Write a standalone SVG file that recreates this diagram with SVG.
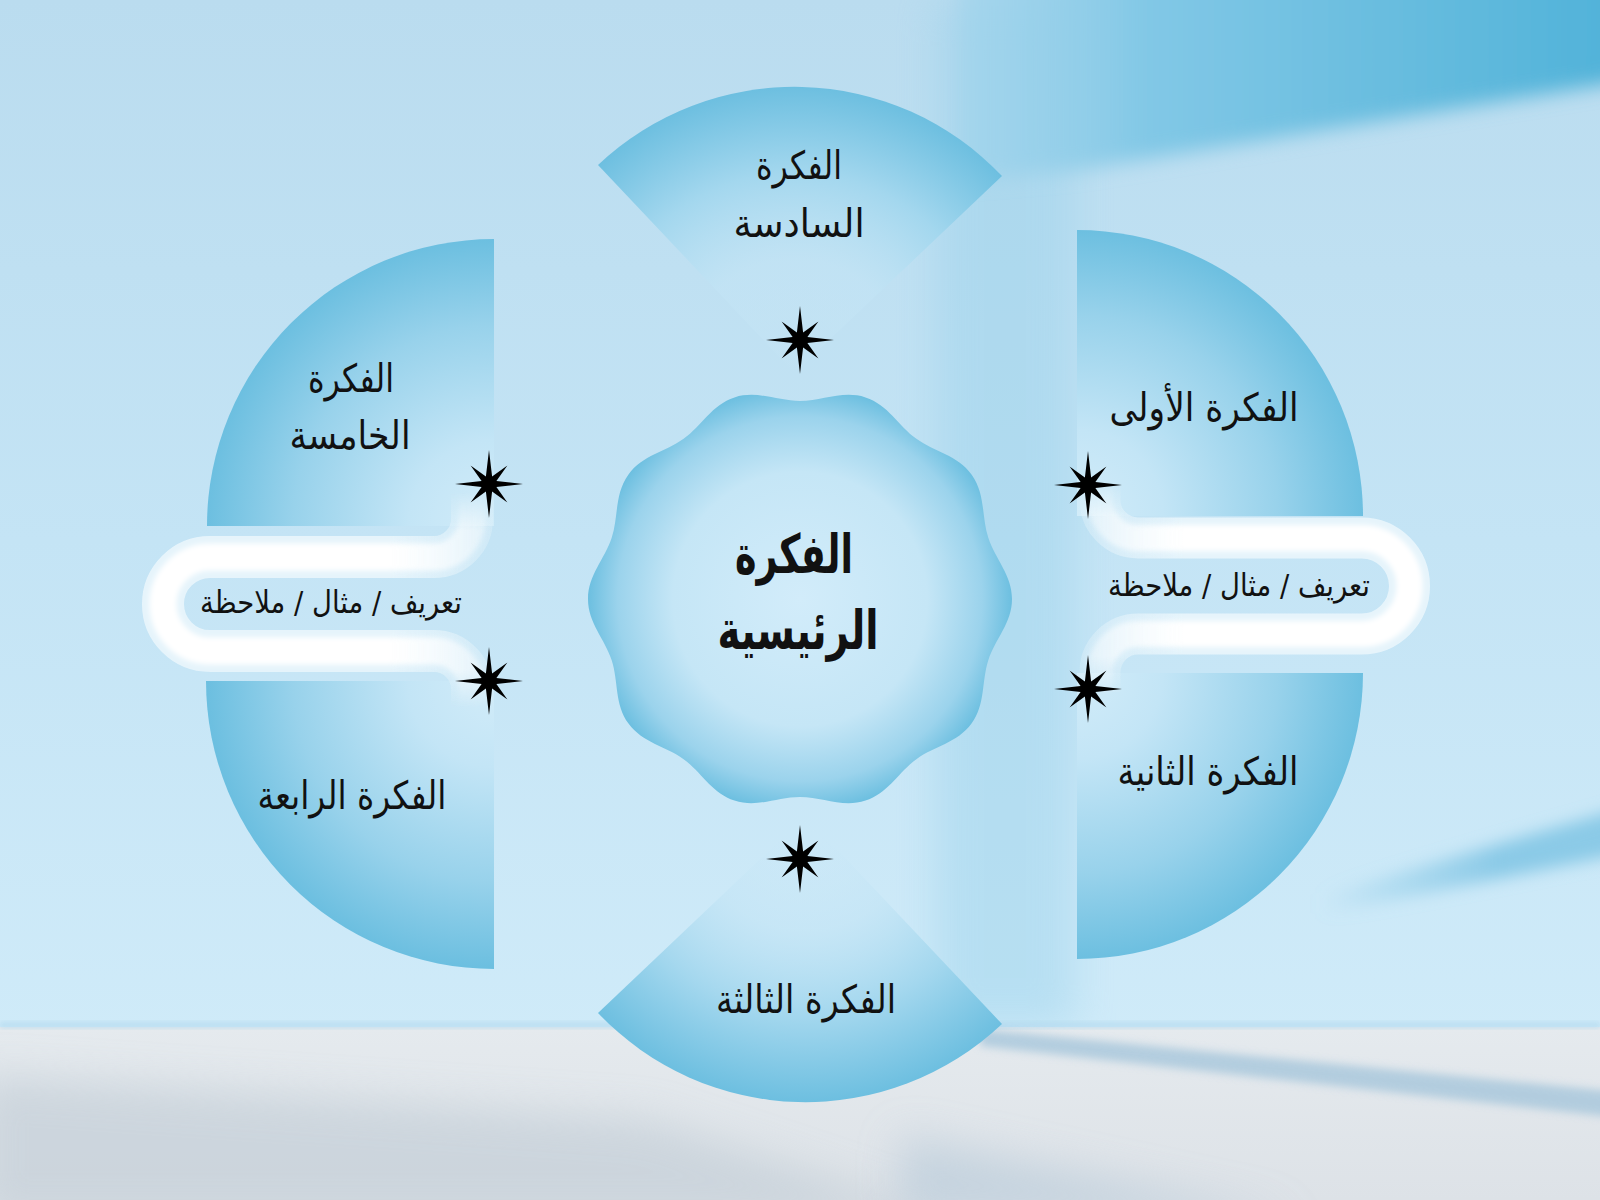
<svg xmlns="http://www.w3.org/2000/svg" width="1600" height="1200" viewBox="0 0 1600 1200">
<style>
.lbl{font-family:"DejaVu Sans","Noto Sans",sans-serif;font-size:39px;fill:#111;text-anchor:middle}
.ttl{font-size:54px;font-weight:bold}
.note{font-size:31px}
.star{fill:#000}
</style>
<defs>
<filter id="b4" x="-50%" y="-50%" width="200%" height="200%"><feGaussianBlur stdDeviation="4"/></filter>
<filter id="b8" x="-50%" y="-50%" width="200%" height="200%"><feGaussianBlur stdDeviation="8"/></filter>
<filter id="b10" x="-50%" y="-50%" width="200%" height="200%"><feGaussianBlur stdDeviation="10"/></filter>
<filter id="b20" x="-50%" y="-50%" width="200%" height="200%"><feGaussianBlur stdDeviation="20"/></filter>
<filter id="b2" x="-20%" y="-20%" width="140%" height="140%"><feGaussianBlur stdDeviation="2.5"/></filter>
<linearGradient id="wallG" x1="0" y1="0" x2="0" y2="1">
<stop offset="0" stop-color="#badcef"/><stop offset="0.45" stop-color="#c4e4f5"/><stop offset="1" stop-color="#d3edfa"/>
</linearGradient>
<linearGradient id="floorG" x1="0" y1="0" x2="0" y2="1">
<stop offset="0" stop-color="#e5eaee"/><stop offset="1" stop-color="#dde2e7"/>
</linearGradient>
<linearGradient id="topDark" gradientUnits="userSpaceOnUse" x1="950" y1="0" x2="1600" y2="0">
<stop offset="0" stop-color="#a0d4ec" stop-opacity="0.6"/><stop offset="0.3" stop-color="#82c8e6"/><stop offset="1" stop-color="#52b3d9"/>
</linearGradient>
<linearGradient id="stripeG" gradientUnits="userSpaceOnUse" x1="1320" y1="0" x2="1500" y2="0">
<stop offset="0" stop-color="#8bcae7" stop-opacity="0"/><stop offset="1" stop-color="#8bcae7"/>
</linearGradient>
<radialGradient id="wedgeT" gradientUnits="userSpaceOnUse" cx="794.5" cy="373" r="286">
<stop offset="0" stop-color="#cde9f8" stop-opacity="0"/><stop offset="0.4" stop-color="#c2e4f5" stop-opacity="0.6"/><stop offset="0.7" stop-color="#a3d7ee"/><stop offset="1" stop-color="#6dbfe0"/>
</radialGradient>
<radialGradient id="wedgeB" gradientUnits="userSpaceOnUse" cx="805.5" cy="816" r="286">
<stop offset="0" stop-color="#cde9f8" stop-opacity="0"/><stop offset="0.4" stop-color="#c2e4f5" stop-opacity="0.6"/><stop offset="0.7" stop-color="#a3d7ee"/><stop offset="1" stop-color="#6dbfe0"/>
</radialGradient>
<radialGradient id="quarter" gradientUnits="userSpaceOnUse" cx="0" cy="0" r="287">
<stop offset="0" stop-color="#d2ecf9"/><stop offset="0.3" stop-color="#c3e5f6"/><stop offset="0.7" stop-color="#98d2eb"/><stop offset="1" stop-color="#6cbfe0"/>
</radialGradient>
<radialGradient id="blobG" gradientUnits="userSpaceOnUse" cx="0" cy="0" r="212">
<stop offset="0" stop-color="#d2ecfa"/><stop offset="0.6" stop-color="#c5e6f6"/><stop offset="0.86" stop-color="#9bd3ec"/><stop offset="1" stop-color="#6cbfe0"/>
</radialGradient>
<linearGradient id="ribRo" gradientUnits="userSpaceOnUse" x1="1082" y1="0" x2="1185" y2="0">
<stop offset="0" stop-color="#e6f4fb" stop-opacity="0.35"/><stop offset="1" stop-color="#e6f4fb"/>
</linearGradient>
<linearGradient id="ribRi" gradientUnits="userSpaceOnUse" x1="1082" y1="0" x2="1185" y2="0">
<stop offset="0" stop-color="#ffffff" stop-opacity="0.35"/><stop offset="1" stop-color="#ffffff"/>
</linearGradient>
<linearGradient id="ribLo" gradientUnits="userSpaceOnUse" x1="492" y1="0" x2="390" y2="0">
<stop offset="0" stop-color="#e6f4fb" stop-opacity="0.35"/><stop offset="1" stop-color="#e6f4fb"/>
</linearGradient>
<linearGradient id="ribLi" gradientUnits="userSpaceOnUse" x1="492" y1="0" x2="390" y2="0">
<stop offset="0" stop-color="#ffffff" stop-opacity="0.35"/><stop offset="1" stop-color="#ffffff"/>
</linearGradient>
<linearGradient id="fadeR" gradientUnits="userSpaceOnUse" x1="0" y1="480" x2="0" y2="700">
<stop offset="0" stop-color="#fff" stop-opacity="0"/><stop offset="0.17" stop-color="#fff"/><stop offset="0.8" stop-color="#fff"/><stop offset="1" stop-color="#fff" stop-opacity="0"/>
</linearGradient>
<linearGradient id="fadeL" gradientUnits="userSpaceOnUse" x1="0" y1="492" x2="0" y2="708">
<stop offset="0" stop-color="#fff" stop-opacity="0"/><stop offset="0.18" stop-color="#fff"/><stop offset="0.82" stop-color="#fff"/><stop offset="1" stop-color="#fff" stop-opacity="0"/>
</linearGradient>
<mask id="maskR" maskUnits="userSpaceOnUse" x="1000" y="400" width="500" height="400"><rect x="1000" y="400" width="500" height="400" fill="url(#fadeR)"/></mask>
<mask id="maskL" maskUnits="userSpaceOnUse" x="100" y="400" width="500" height="400"><rect x="100" y="400" width="500" height="400" fill="url(#fadeL)"/></mask>
<path id="star" d="M34,0 L7.4,3.1 L18.4,18.4 L3.1,7.4 L0,34 L-3.1,7.4 L-18.4,18.4 L-7.4,3.1 L-34,0 L-7.4,-3.1 L-18.4,-18.4 L-3.1,-7.4 L0,-34 L3.1,-7.4 L18.4,-18.4 L7.4,-3.1Z"/>
</defs>

<g id="background">
<rect width="1600" height="1200" fill="url(#wallG)"/>
<rect x="935" y="0" width="140" height="1027" fill="#94cfe9" opacity="0.4" filter="url(#b20)"/>
<polygon points="960,-30 1630,-30 1630,80 1077,170 960,180" fill="url(#topDark)" filter="url(#b10)"/>
<polygon points="1320,895 1630,806 1630,852 1320,915" fill="url(#stripeG)" filter="url(#b8)"/>
<rect x="0" y="1027" width="1600" height="173" fill="url(#floorG)"/>
<rect x="0" y="1022" width="1600" height="6" fill="#b2d9ee" opacity="0.7" filter="url(#b2)"/>
<polygon points="980,1029 1620,1092 1620,1118 980,1046" fill="#a3c4da" opacity="0.75" filter="url(#b4)"/>
<polygon points="-20,1075 650,1120 950,1220 -20,1220" fill="#c6d0d9" opacity="0.75" filter="url(#b20)"/>
<polygon points="900,1135 1300,1220 900,1220" fill="#bccddb" opacity="0.7" filter="url(#b20)"/>
</g>

<g id="node-6">
<path d="M794.5 373 L598 165 A286 286 0 0 1 1002 176 Z" fill="url(#wedgeT)"/>
<text class="lbl" x="799" y="179" textLength="86" lengthAdjust="spacingAndGlyphs">الفكرة</text>
<text class="lbl" x="799" y="237" textLength="131" lengthAdjust="spacingAndGlyphs">السادسة</text>
</g>
<g id="node-3">
<path d="M805.5 816 L1002 1024 A286 286 0 0 1 598 1013 Z" fill="url(#wedgeB)"/>
<text class="lbl" x="806" y="1013" textLength="180" lengthAdjust="spacingAndGlyphs">الفكرة الثالثة</text>
</g>
<g id="node-5">
<path transform="translate(494,526)" d="M0 0 L-287 0 A287 287 0 0 1 0 -287 Z" fill="url(#quarter)"/>
<text class="lbl" x="351" y="392" textLength="86" lengthAdjust="spacingAndGlyphs">الفكرة</text>
<text class="lbl" x="350" y="449" textLength="121" lengthAdjust="spacingAndGlyphs">الخامسة</text>
</g>
<g id="node-4">
<path transform="translate(494,681)" d="M0 0 L0 288 A288 288 0 0 1 -288 0 Z" fill="url(#quarter)"/>
<text class="lbl" x="352" y="809" textLength="189" lengthAdjust="spacingAndGlyphs">الفكرة الرابعة</text>
</g>
<g id="node-1">
<path transform="translate(1077,516)" d="M0 0 L0 -286 A286 286 0 0 1 286 0 Z" fill="url(#quarter)"/>
<text class="lbl" x="1204" y="421" textLength="189" lengthAdjust="spacingAndGlyphs">الفكرة الأولى</text>
</g>
<g id="node-2">
<path transform="translate(1077,673)" d="M0 0 L286 0 A286 286 0 0 1 0 286 Z" fill="url(#quarter)"/>
<text class="lbl" x="1208" y="785" textLength="181" lengthAdjust="spacingAndGlyphs">الفكرة الثانية</text>
</g>

<g id="node-main">
<path transform="translate(800,599)" fill="url(#blobG)" d="M212,0 C212,24 195.3,39.8 188.3,61.2 C181.4,82.6 185.6,105.2 171.5,124.6 C157.4,144 134.6,147 116.4,160.2 C98.2,173.4 88.3,194.2 65.5,201.6 C42.7,209 22.5,198 0,198 C-22.5,198 -42.7,209 -65.5,201.6 C-88.3,194.2 -98.2,173.4 -116.4,160.2 C-134.6,147 -157.4,144 -171.5,124.6 C-185.6,105.2 -181.4,82.6 -188.3,61.2 C-195.3,39.8 -212,24 -212,0 C-212,-24 -195.3,-39.8 -188.3,-61.2 C-181.4,-82.6 -185.6,-105.2 -171.5,-124.6 C-157.4,-144 -134.6,-147 -116.4,-160.2 C-98.2,-173.4 -88.3,-194.2 -65.5,-201.6 C-42.7,-209 -22.5,-198 0,-198 C22.5,-198 42.7,-209 65.5,-201.6 C88.3,-194.2 98.2,-173.4 116.4,-160.2 C134.6,-147 157.4,-144 171.5,-124.6 C185.6,-105.2 181.4,-82.6 188.3,-61.2 C195.3,-39.8 212,-24 212,0Z"/>
<text class="lbl ttl" x="794" y="573" textLength="118" lengthAdjust="spacingAndGlyphs">الفكرة</text>
<text class="lbl ttl" x="798" y="649" textLength="161" lengthAdjust="spacingAndGlyphs">الرئيسية</text>
</g>

<g id="connectors">
<g id="ribbon-right" fill="none">
<g mask="url(#maskR)">
<path d="M1100 486 L1100 500 A38 38 0 0 0 1138 538 L1361.5 538 A48 48 0 0 1 1361.5 634 L1138 634 A38 38 0 0 0 1100 672 L1100 692" stroke="url(#ribRo)" stroke-width="41"/>
<path d="M1100 486 L1100 500 A38 38 0 0 0 1138 538 L1361.5 538 A48 48 0 0 1 1361.5 634 L1138 634 A38 38 0 0 0 1100 672 L1100 692" stroke="url(#ribRi)" stroke-width="26" filter="url(#b2)"/>
</g>
<text class="lbl note" x="1239" y="596" textLength="262" lengthAdjust="spacingAndGlyphs">تعريف / مثال / ملاحظة</text>
</g>
<g id="ribbon-left" fill="none">
<g mask="url(#maskL)">
<path d="M472 490 L472 519 A38 38 0 0 1 434 557 L210 557 A47 47 0 0 0 210 651 L434 651 A38 38 0 0 1 472 689 L472 710" stroke="url(#ribLo)" stroke-width="42"/>
<path d="M472 490 L472 519 A38 38 0 0 1 434 557 L210 557 A47 47 0 0 0 210 651 L434 651 A38 38 0 0 1 472 689 L472 710" stroke="url(#ribLi)" stroke-width="27" filter="url(#b2)"/>
</g>
<text class="lbl note" x="331" y="613" textLength="262" lengthAdjust="spacingAndGlyphs">تعريف / مثال / ملاحظة</text>
</g>
<g id="stars" class="star">
<use href="#star" x="800" y="340"/>
<use href="#star" x="800" y="859"/>
<use href="#star" x="489" y="484"/>
<use href="#star" x="489" y="681"/>
<use href="#star" x="1088" y="485"/>
<use href="#star" x="1088" y="689"/>
</g>
</g>
</svg>
